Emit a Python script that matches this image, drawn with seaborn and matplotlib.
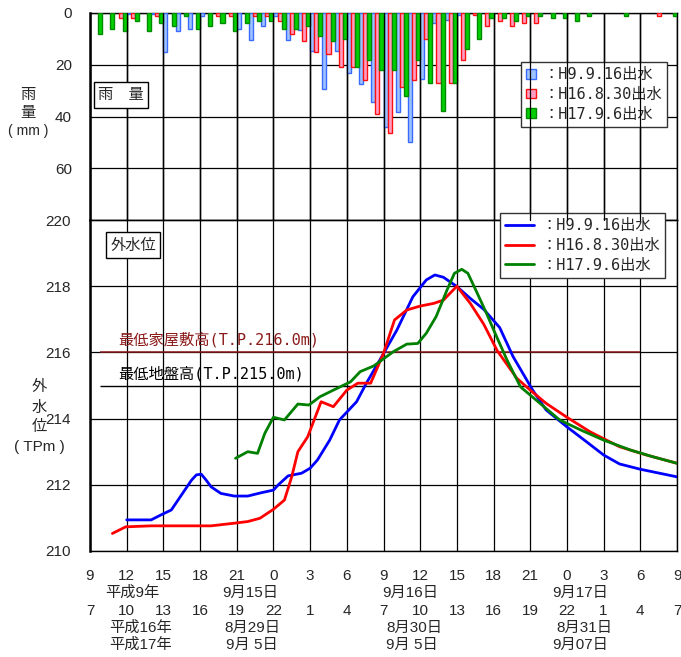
import numpy as np
import pandas as pd
import matplotlib
matplotlib.use('Agg')
import matplotlib.pyplot as plt
import matplotlib.transforms as mtransforms
from matplotlib.patches import Patch
from matplotlib.lines import Line2D
import seaborn as sns

# ---------------- data ----------------
series_names = ['H9.9.16出水', 'H16.8.30出水', 'H17.9.6出水']

# hourly rainfall (mm), hour index 0 = 9:00 (H9) / 7:00 (H16, H17)
rain_hours = list(range(48))
rain_h9 = [0, 0, 0, 0.5, 0, 0.5, 15, 7, 6, 1, 0, 0, 6, 10.5, 5, 1,
           10.5, 6.7, 14.7, 29.3, 14.7, 23.2, 27.4, 34.4, 44, 38.3, 50, 25.5, 4, 2.7, 0.8, 0,
           0, 0, 0, 0, 0, 0, 0, 0, 0, 0, 0, 0, 0, 0, 0, 0]
rain_h16 = [0, 0, 2, 2, 0, 1, 0, 0, 0, 0, 1, 1, 0, 1, 1, 3,
            8, 11, 15, 16, 21, 21, 26, 39, 46.4, 28.7, 26, 10, 27, 27, 18, 0.9,
            5, 3, 5, 4, 4, 0, 0, 0, 0, 0, 0, 0, 0, 0, 1, 0]
rain_h17 = [8, 6, 7, 3, 7, 4, 5, 1, 6, 5, 4, 7, 4, 3, 3, 6,
            6, 5, 9, 11, 10, 21, 18, 22, 22, 32, 18, 27, 38, 27, 14, 10,
            2, 2, 3, 1, 1, 2, 2, 3, 1, 0, 0, 1, 0, 0, 0, 1]

# outer water level (T.P. m)
wl_h9_hours = [3, 5, 5.8, 6.65, 7.2, 7.75, 8.3, 8.7, 9.1, 9.5, 9.9, 10.7, 11.8, 12.9, 14.0,
               15.0, 15.4, 16.2, 17.3, 18.0, 18.6, 19.6, 20.4, 21.8, 22.6, 23.7, 25.1, 26.4,
               27.5, 28.2, 28.9, 30.0, 31.1, 32.2, 33.5, 34.6, 36.2, 37.3, 39.0, 40.6, 42.0,
               43.3, 45.0, 48.0]
wl_h9 = [210.94, 210.94, 211.09, 211.24, 211.54, 211.84, 212.14, 212.3, 212.32, 212.14,
         211.94, 211.74, 211.66, 211.66, 211.76, 211.84, 212.0, 212.27, 212.35, 212.5,
         212.75, 213.35, 213.96, 214.51, 215.07, 215.77, 216.68, 217.68, 218.19, 218.34,
         218.27, 217.99, 217.63, 217.3, 216.75, 215.87, 214.86, 214.26, 213.75, 213.3,
         212.9, 212.63, 212.47, 212.24]

wl_h16_hours = [1.83, 2.92, 5, 9.9, 11.8, 12.9, 13.9, 15.0, 15.9, 16.5, 17.0, 17.8, 18.9,
                19.9, 21.0, 21.9, 22.95, 24.0, 24.9, 25.9, 27.0, 28.1, 28.9, 30.0, 31.1,
                32.2, 33.3, 34.9, 36.0, 37.3, 39.0, 40.9, 43.3, 45.5, 48.0]
wl_h16 = [210.53, 210.73, 210.76, 210.76, 210.84, 210.89, 210.99, 211.26, 211.54, 212.25,
          213.0, 213.45, 214.51, 214.36, 214.86, 215.07, 215.07, 215.97, 216.98, 217.28,
          217.4, 217.48, 217.58, 218.0, 217.48, 216.85, 216.05, 215.22, 214.86, 214.46,
          214.04, 213.6, 213.15, 212.9, 212.65]

wl_h17_hours = [11.9, 12.9, 13.7, 14.3, 15.0, 15.9, 17.0, 17.9, 18.8, 19.9, 21.3, 22.1,
                23.2, 24.8, 25.9, 26.8, 27.5, 28.3, 29.2, 29.8, 30.4, 30.9, 31.6, 32.4,
                33.1, 34.1, 35.2, 36.8, 38.4, 40.1, 42.0, 44.2, 46.0, 48.0]
wl_h17 = [212.8, 213.0, 212.95, 213.56, 214.04, 213.96, 214.44, 214.41, 214.66, 214.86,
          215.11, 215.42, 215.59, 216.02, 216.25, 216.27, 216.58, 217.08, 217.89, 218.39,
          218.51, 218.39, 217.84, 217.2, 216.6, 215.77, 214.96, 214.46, 213.96, 213.66,
          213.35, 213.05, 212.85, 212.65]

ref_levels = [216.0, 215.0]
ref_labels = ['最低家屋敷高(T.P.216.0m)', '最低地盤高(T.P.215.0m)']
ref_span = [0.85, 45.0]

tick_hours = list(range(0, 49, 3))
tick_row_h9 = ['9', '12', '15', '18', '21', '0', '3', '6', '9', '12', '15', '18', '21',
               '0', '3', '6', '9']
tick_row_h16 = ['7', '10', '13', '16', '19', '22', '1', '4', '7', '10', '13', '16', '19',
                '22', '1', '4', '7']
date_row_h9 = ['平成9年', '9月15日', '9月16日', '9月17日']
date_row_h16 = ['平成16年', '8月29日', '8月30日', '8月31日']
date_row_h17 = ['平成17年', '9月 5日', '9月 5日', '9月07日']
date_pos_h9 = [3.5, 13.1, 26.2, 40.1]
date_pos_h16 = [4.1, 13.3, 26.5, 40.4]
date_pos_h17 = [4.1, 13.2, 26.3, 40.1]

rain_ticks = [0, 20, 40, 60, 80]
rain_ticklabels = ['0', '20', '40', '60', '']
wl_ticks = [210, 212, 214, 216, 218, 220]

# ---------------- style ----------------
sns.set_style('white')
FONT = ['Liberation Sans', 'Noto Sans CJK JP', 'DejaVu Sans']
CJK = ['Noto Sans CJK JP', 'DejaVu Sans']
MONO = ['DejaVu Sans Mono', 'Noto Sans CJK JP']
plt.rcParams['font.family'] = FONT
plt.rcParams['axes.unicode_minus'] = False

bar_face = ['#9EC3FF', '#FF9EC4', '#00D000']
bar_edge = ['#3A6BFF', '#FF1010', '#008A00']
line_cols = ['#0000FF', '#FF0000', '#008000']

W, H = 681, 657
fig = plt.figure(figsize=(W / 100, H / 100), dpi=100)
x0, x1 = 90, 677
ax_r = fig.add_axes([x0 / W, 1 - 220 / H, (x1 - x0) / W, (220 - 13) / H])
ax_w = fig.add_axes([x0 / W, 1 - 551 / H, (x1 - x0) / W, (551 - 220) / H])

# ---------------- rainfall ----------------
rain_df = pd.DataFrame({
    'hour': np.tile(np.array(rain_hours) + 0.5, 3),
    'rain': rain_h9 + rain_h16 + rain_h17,
    'series': np.repeat(series_names, len(rain_hours)),
})
rain_df = rain_df[rain_df['rain'] > 0]
sns.barplot(data=rain_df, x='hour', y='rain', hue='series', hue_order=series_names,
            palette=bar_face, native_scale=True, width=1.0, dodge=True,
            errorbar=None, ax=ax_r, legend=False, saturation=1, zorder=3)
for cont, ec in zip(ax_r.containers, bar_edge):
    for p in cont.patches:
        p.set_edgecolor(ec)
        p.set_linewidth(1.0)

ax_r.set_xlim(0, 48)
ax_r.set_ylim(80, 0)
ax_r.set_yticks(rain_ticks)
ax_r.set_yticklabels(rain_ticklabels, fontsize=11)
ax_r.set_xticks(tick_hours)
ax_r.set_xticklabels([])
ax_r.set_xlabel('')
ax_r.set_ylabel('')
ax_r.tick_params(axis='y', direction='in', length=0, pad=13)
ax_r.tick_params(axis='x', length=0)
for h in tick_hours:
    ax_r.axvline(h, color='black', lw=0.9, zorder=1.5)

rain_handles = [Patch(facecolor=f, edgecolor=e, lw=1) for f, e in zip(bar_face, bar_edge)]
leg_r = ax_r.legend(rain_handles, ['：' + s for s in series_names],
                    loc='upper left', bbox_to_anchor=(521 / W, 1 - 62 / H),
                    bbox_transform=fig.transFigure, fancybox=False, framealpha=1,
                    edgecolor='#333333', handlelength=0.6, handleheight=0.6,
                    handletextpad=0.5, labelspacing=0.3, borderpad=0.35,
                    borderaxespad=0, prop={'family': MONO, 'size': 11})
leg_r.get_frame().set_linewidth(1.0)
leg_r.set_zorder(10)

# ---------------- water level ----------------
wl_df = pd.concat([
    pd.DataFrame({'hour': wl_h9_hours, 'level': wl_h9, 'series': series_names[0]}),
    pd.DataFrame({'hour': wl_h16_hours, 'level': wl_h16, 'series': series_names[1]}),
    pd.DataFrame({'hour': wl_h17_hours, 'level': wl_h17, 'series': series_names[2]}),
])
sns.lineplot(data=wl_df, x='hour', y='level', hue='series', hue_order=series_names,
             palette=line_cols, estimator=None, sort=False, lw=2.0, ax=ax_w,
             legend=False, zorder=4)

ax_w.hlines(ref_levels[0], ref_span[0], ref_span[1], color='#8B1A1A', lw=1.1, zorder=3)
ax_w.hlines(ref_levels[1], ref_span[0], ref_span[1], color='black', lw=1.0, zorder=3)
ax_w.text(2.3, ref_levels[0] + 0.38, ref_labels[0], color='#8B1A1A', fontsize=11,
          family=MONO, va='center', ha='left')
ax_w.text(2.3, ref_levels[1] + 0.35, ref_labels[1], color='black', fontsize=11,
          family=MONO, va='center', ha='left')

ax_w.set_xlim(0, 48)
ax_w.set_ylim(210, 220)
ax_w.set_yticks(wl_ticks)
ax_w.set_yticklabels([str(v) for v in wl_ticks], fontsize=11)
ax_w.set_xticks(tick_hours)
ax_w.set_xticklabels([])
ax_w.set_xlabel('')
ax_w.set_ylabel('')
ax_w.tick_params(axis='y', direction='in', length=6, pad=14, color='black')
ax_w.tick_params(axis='x', length=0)

wl_handles = [Line2D([], [], color=c, lw=2.0) for c in line_cols]
leg_w = ax_w.legend(wl_handles, ['：' + s for s in series_names],
                    loc='upper left', bbox_to_anchor=(500 / W, 1 - 213 / H),
                    bbox_transform=fig.transFigure, fancybox=False, framealpha=1,
                    edgecolor='#333333', handlelength=1.9, handletextpad=0.45,
                    labelspacing=0.3, borderpad=0.35, borderaxespad=0,
                    prop={'family': MONO, 'size': 11})
leg_w.get_frame().set_linewidth(1.0)
leg_w.set_zorder(10)

for ax in (ax_r, ax_w):
    ax.set_axisbelow(True)
    ax.xaxis.grid(True, which='major', color='black', lw=0.9)
    ax.yaxis.grid(True, which='major', color='black', lw=0.9)
    for sp in ax.spines.values():
        sp.set_visible(True)
        sp.set_color('black')
        sp.set_linewidth(1.0)
    ax.spines['left'].set_linewidth(1.8)

# vertical 3-hour grid of the rainfall panel, drawn at figure level on the tick positions
vtrans = mtransforms.blended_transform_factory(ax_r.transData, ax_r.transAxes)
for h in tick_hours[1:-1]:
    fig.add_artist(Line2D([h, h], [0, 1], transform=vtrans, color='black', lw=0.9,
                          zorder=0.6))

# boxed panel titles
fig.text(121 / W, 1 - 95 / H, '雨　量', ha='center', va='center', fontsize=11,
         family=CJK, zorder=5,
         bbox=dict(boxstyle='square,pad=0.3', fc='white', ec='black', lw=1))
fig.text(133 / W, 1 - 245 / H, '外水位', ha='center', va='center', fontsize=11,
         family=CJK, zorder=5,
         bbox=dict(boxstyle='square,pad=0.3', fc='white', ec='black', lw=1))

# ---------------- axis titles ----------------
for txt, y in [('雨', 95), ('量', 113)]:
    fig.text(28 / W, 1 - y / H, txt, ha='center', va='center', fontsize=11, family=CJK)
fig.text(28 / W, 1 - 131 / H, '( mm )', ha='center', va='center', fontsize=10, family=FONT)
for txt, y in [('外', 387), ('水', 407), ('位', 427)]:
    fig.text(39 / W, 1 - y / H, txt, ha='center', va='center', fontsize=11, family=CJK)
fig.text(39 / W, 1 - 447 / H, '( TPm )', ha='center', va='center', fontsize=11, family=FONT)

# ---------------- x label rows ----------------
trans = mtransforms.blended_transform_factory(ax_w.transData, fig.transFigure)
for h, lab in zip(tick_hours, tick_row_h9):
    ax_w.text(h, 1 - 576 / H, lab, transform=trans, ha='center', va='center', fontsize=11)
for h, lab in zip(tick_hours, tick_row_h16):
    ax_w.text(h, 1 - 611 / H, lab, transform=trans, ha='center', va='center', fontsize=11)
for h, lab in zip(date_pos_h9, date_row_h9):
    ax_w.text(h, 1 - 593 / H, lab, transform=trans, ha='center', va='center', fontsize=11)
for h, lab in zip(date_pos_h16, date_row_h16):
    ax_w.text(h, 1 - 628 / H, lab, transform=trans, ha='center', va='center', fontsize=11)
for h, lab in zip(date_pos_h17, date_row_h17):
    ax_w.text(h, 1 - 645 / H, lab, transform=trans, ha='center', va='center', fontsize=11)

fig.savefig('out.png', dpi=100, facecolor='white')
